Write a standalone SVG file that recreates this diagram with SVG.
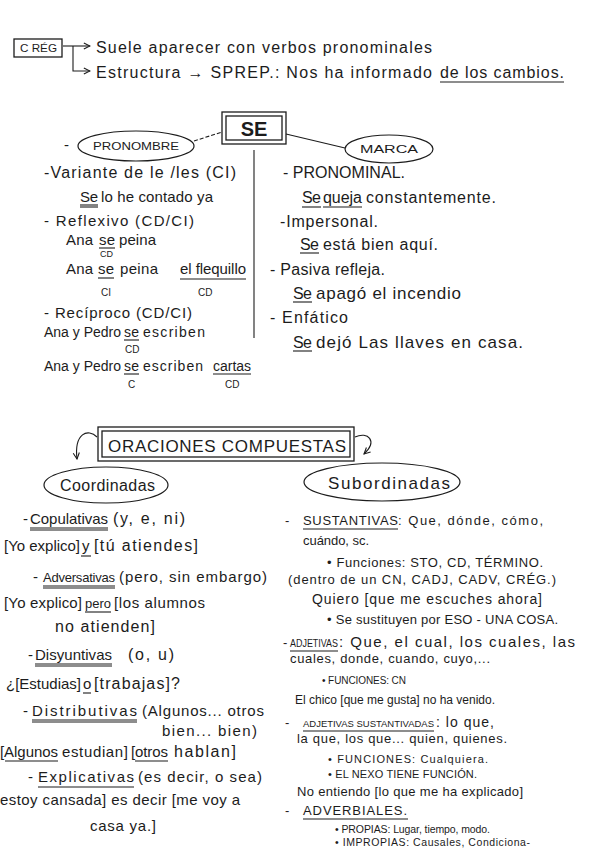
<svg xmlns="http://www.w3.org/2000/svg" width="600" height="848" viewBox="0 0 600 848">
<style>
text{font-family:"Liberation Sans","DejaVu Sans",sans-serif;fill:#1c1c1c;font-size:15px}
.h{font-size:16px}
.g{font-size:17px}
.k{font-size:14px}
.s{font-size:10px}
.m{font-size:13px}
.c{font-size:11px}
.ul{stroke:#1c1c1c;stroke-width:1.1;fill:none}
.box{fill:none;stroke:#1c1c1c;stroke-width:1.3}
.ell{fill:none;stroke:#1c1c1c;stroke-width:1.2}
.cn{fill:none;stroke:#1c1c1c;stroke-width:1.1}
</style>
<defs>
<marker id="ah" viewBox="0 0 10 10" refX="9" refY="5" markerWidth="7" markerHeight="7" orient="auto-start-reverse">
<path d="M1 1 L9 5 L1 9" fill="none" stroke="#1c1c1c" stroke-width="1.4"/>
</marker>
</defs>
<rect width="600" height="848" fill="#ffffff"/>

<g id="connectors">
<path class="cn" d="M63 46 H90" marker-end="url(#ah)"/>
<path class="cn" d="M73 46 V71 H90" marker-end="url(#ah)"/>
<path class="cn" d="M194 141 L222 132" stroke-dasharray="4 2"/>
<path class="cn" d="M286 134 L345 148"/>
<line class="cn" x1="254" y1="150" x2="254" y2="338"/>
<path class="cn" d="M97 437 C 88 428, 74 433, 77 459" marker-end="url(#ah)"/>
<path class="cn" d="M355 437 C 368 431, 378 441, 364 454" marker-end="url(#ah)"/>
</g>

<g id="creg">
<rect class="box" x="14" y="39" width="48" height="18"/>
<text x="20" y="52" textLength="37" lengthAdjust="spacingAndGlyphs" style="font-size:11px">C RÉG</text>
<text class="h" x="96" y="53" textLength="336">Suele aparecer con verbos pronominales</text>
<text class="h" x="96" y="78" textLength="336">Estructura → SPREP.: Nos ha informado</text>
<text class="h" x="440" y="78" textLength="124">de los cambios.</text>
<line class="ul" x1="440" y1="82" x2="564" y2="82"/>
</g>

<g id="se">
<rect class="box" x="222" y="112" width="64" height="32"/>
<rect class="box" x="226" y="116" width="56" height="24"/>
<text x="254" y="136" text-anchor="middle" style="font-size:20px;font-weight:bold">SE</text>
</g>

<g id="pronombre">
<text x="64" y="150">-</text>
<ellipse class="ell" cx="136" cy="146" rx="58" ry="15"/>
<text x="93" y="150" textLength="86" lengthAdjust="spacingAndGlyphs" style="font-size:11px">PRONOMBRE</text>
</g>

<g id="marca">
<ellipse class="ell" cx="389" cy="149" rx="44" ry="14"/>
<text x="360" y="153" textLength="58" lengthAdjust="spacingAndGlyphs" style="font-size:11px">MARCA</text>
</g>

<g id="pronombre-usos">
<text class="h" x="44" y="178" textLength="192">-Variante de le /les (CI)</text>
<text x="80" y="202" textLength="18">Se</text>
<text x="101" y="202" textLength="112">lo he contado ya</text>
<line class="ul" x1="80" y1="205" x2="98" y2="205"/><line class="ul" x1="80" y1="207" x2="98" y2="207"/>
<text x="44" y="226" textLength="150">- Reflexivo (CD/CI)</text>
<text x="66" y="245" textLength="27">Ana</text>
<text x="99" y="245" textLength="16">se</text>
<text x="119" y="245" textLength="37">peina</text>
<line class="ul" x1="99" y1="248" x2="115" y2="248"/>
<text x="100" y="257" style="font-size:9px">CD</text>
<text x="66" y="274" textLength="27">Ana</text>
<text x="98" y="274" textLength="16">se</text>
<text x="120" y="274" textLength="38">peina</text>
<text x="180" y="274" textLength="66">el flequillo</text>
<line class="ul" x1="98" y1="278" x2="114" y2="278"/>
<line class="ul" x1="180" y1="279" x2="246" y2="279"/>
<text class="s" x="101" y="296">CI</text>
<text class="s" x="198" y="296">CD</text>
<text x="44" y="318" textLength="148">- Recíproco (CD/CI)</text>
<text class="k" x="44" y="337" textLength="77">Ana y Pedro</text>
<text class="k" x="124" y="337" textLength="15">se</text>
<text class="k" x="143" y="337" textLength="62">escriben</text>
<line class="ul" x1="124" y1="340" x2="139" y2="340"/>
<text class="s" x="125" y="353">CD</text>
<text class="k" x="44" y="371" textLength="77">Ana y Pedro</text>
<text class="k" x="124" y="371" textLength="15">se</text>
<text class="k" x="143" y="371" textLength="60">escriben</text>
<text class="k" x="213" y="371" textLength="38">cartas</text>
<line class="ul" x1="124" y1="374" x2="139" y2="374"/>
<line class="ul" x1="213" y1="374" x2="251" y2="374"/>
<text class="s" x="128" y="388">C</text>
<text class="s" x="225" y="388">CD</text>
</g>

<g id="marca-usos">
<text class="h" x="283" y="178" textLength="122">- PRONOMINAL.</text>
<text class="h" x="302" y="203" textLength="19">Se</text>
<text class="h" x="323" y="203" textLength="39">queja</text>
<text class="h" x="366" y="203" textLength="130">constantemente.</text>
<line class="ul" x1="302" y1="207" x2="321" y2="207"/><line class="ul" x1="323" y1="207" x2="362" y2="207"/>
<text class="h" x="280" y="227" textLength="98">-Impersonal.</text>
<text class="h" x="300" y="250" textLength="19">Se</text>
<text class="h" x="323" y="250" textLength="115">está bien aquí.</text>
<line class="ul" x1="300" y1="253" x2="319" y2="253"/>
<text class="h" x="270" y="275" textLength="115">- Pasiva refleja.</text>
<text class="h" x="293" y="299" textLength="19">Se</text>
<text class="g" x="316" y="299" textLength="145">apagó el incendio</text>
<line class="ul" x1="293" y1="302" x2="312" y2="302"/>
<text class="h" x="270" y="323" textLength="78">- Enfático</text>
<text class="h" x="293" y="348" textLength="19">Se</text>
<text class="g" x="316" y="348" textLength="207">dejó Las llaves en casa.</text>
<line class="ul" x1="293" y1="351" x2="312" y2="351"/>
</g>

<g id="oraciones-compuestas">
<rect class="box" x="98" y="427" width="256" height="34"/>
<rect class="box" x="102" y="431" width="248" height="26"/>
<text x="108" y="452" textLength="238" style="font-size:17px">ORACIONES COMPUESTAS</text>
</g>

<g id="coordinadas">
<ellipse class="ell" cx="106" cy="485" rx="62" ry="18"/>
<text x="60" y="491" textLength="95" style="font-size:16px">Coordinadas</text>
</g>

<g id="subordinadas">
<ellipse class="ell" cx="382" cy="482" rx="78" ry="19"/>
<text x="328" y="489" textLength="122" style="font-size:17px">Subordinadas</text>
</g>

<g id="coordinadas-tipos">
<text x="23" y="524">-</text>
<text x="30" y="524" textLength="78">Copulativas</text>
<text class="h" x="113" y="524" textLength="72">(y, e, ni)</text>
<line class="ul" x1="30" y1="528" x2="108" y2="528"/><line class="ul" x1="30" y1="530" x2="108" y2="530"/>
<text x="4" y="551" textLength="76">[Yo explico]</text>
<text x="82" y="551" textLength="8">y</text>
<text class="h" x="94" y="551" textLength="104">[tú atiendes]</text>
<line class="ul" x1="81" y1="556" x2="91" y2="556"/>
<text x="33" y="582">-</text>
<text class="m" x="43" y="582" textLength="72">Adversativas</text>
<text x="119" y="582" textLength="148">(pero, sin embargo)</text>
<line class="ul" x1="43" y1="586" x2="115" y2="586"/><line class="ul" x1="43" y1="588" x2="115" y2="588"/>
<text x="4" y="608" textLength="78">[Yo explico]</text>
<text class="m" x="85" y="608" textLength="26">pero</text>
<text x="114" y="608" textLength="91">[los alumnos</text>
<line class="ul" x1="85" y1="612" x2="111" y2="612"/>
<text class="h" x="55" y="632" textLength="100">no atienden]</text>
<text x="28" y="660">-</text>
<text x="35" y="660" textLength="77">Disyuntivas</text>
<text class="h" x="128" y="660" textLength="46">(o, u)</text>
<line class="ul" x1="35" y1="664" x2="112" y2="664"/><line class="ul" x1="35" y1="666" x2="112" y2="666"/>
<text x="6" y="689" textLength="75">¿[Estudias]</text>
<text x="83" y="689" textLength="8">o</text>
<text class="h" x="94" y="689" textLength="86">[trabajas]?</text>
<line class="ul" x1="83" y1="693" x2="91" y2="693"/>
<text x="23" y="716">-</text>
<text x="32" y="716" textLength="105">Distributivas</text>
<text x="142" y="716" textLength="122">(Algunos... otros</text>
<line class="ul" x1="32" y1="720" x2="137" y2="720"/><line class="ul" x1="32" y1="722" x2="137" y2="722"/>
<text x="162" y="736" textLength="95">bien... bien)</text>
<text x="0" y="757" textLength="58">[Algunos</text>
<text x="62" y="757" textLength="66">estudian]</text>
<text x="131" y="757" textLength="37">[otros</text>
<text class="h" x="174" y="757" textLength="62">hablan]</text>
<line class="ul" x1="5" y1="761" x2="58" y2="761"/><line class="ul" x1="135" y1="761" x2="168" y2="761"/>
<text x="28" y="782">-</text>
<text x="38" y="782" textLength="96">Explicativas</text>
<text x="138" y="782" textLength="124">(es decir, o sea)</text>
<line class="ul" x1="38" y1="787" x2="134" y2="787"/>
<text x="0" y="805" textLength="240">estoy cansada] es decir [me voy a</text>
<text x="90" y="831" textLength="66">casa ya.]</text>
</g>

<g id="subordinadas-tipos">
<text class="m" x="285" y="525">-</text>
<text class="m" x="303" y="525" textLength="95">SUSTANTIVAS</text>
<text class="m" x="398" y="525" textLength="145">: Que, dónde, cómo,</text>
<line class="ul" x1="303" y1="529" x2="398" y2="529"/>
<text class="m" x="303" y="545" textLength="66">cuándo, sc.</text>
<text class="m" x="327" y="567" textLength="216">• Funciones: STO, CD, TÉRMINO.</text>
<text class="m" x="288" y="584" textLength="268">(dentro de un CN, CADJ, CADV, CRÉG.)</text>
<text class="k" x="312" y="604" textLength="230">Quiero [que me escuches ahora]</text>
<text class="m" x="327" y="624" textLength="231">• Se sustituyen por ESO - UNA COSA.</text>
<text class="m" x="283" y="647">-</text>
<text x="290" y="647" textLength="48" lengthAdjust="spacingAndGlyphs" style="font-size:10px">ADJETIVAS</text>
<text x="339" y="647" textLength="236">: Que, el cual, los cuales, las</text>
<line class="ul" x1="290" y1="651" x2="338" y2="651"/>
<text class="m" x="290" y="663" textLength="200">cuales, donde, cuando, cuyo,...</text>
<text class="s" x="322" y="684" textLength="84">• FUNCIONES: CN</text>
<text x="295" y="704" textLength="200" style="font-size:12px">El chico [que me gusta] no ha venido.</text>
<text class="m" x="285" y="727">-</text>
<text x="303" y="727" textLength="131" lengthAdjust="spacingAndGlyphs" style="font-size:9.5px">ADJETIVAS SUSTANTIVADAS</text>
<text class="k" x="436" y="727" textLength="58">: lo que,</text>
<line class="ul" x1="303" y1="731" x2="434" y2="731"/>
<text class="m" x="297" y="743" textLength="210">la que, los que... quien, quienes.</text>
<text class="c" x="328" y="763" textLength="160">• FUNCIONES: Cualquiera.</text>
<text class="c" x="328" y="778" textLength="149">• EL NEXO TIENE FUNCIÓN.</text>
<text class="m" x="297" y="796" textLength="226">No entiendo [lo que me ha explicado]</text>
<text class="m" x="285" y="815">-</text>
<text class="m" x="303" y="815" textLength="104">ADVERBIALES.</text>
<line class="ul" x1="303" y1="819" x2="408" y2="819"/>
<text x="335" y="833" textLength="155" style="font-size:10.5px">• PROPIAS: Lugar, tiempo, modo.</text>
<text x="335" y="846" textLength="195" style="font-size:10.5px">• IMPROPIAS: Causales, Condiciona-</text>
</g>
</svg>
